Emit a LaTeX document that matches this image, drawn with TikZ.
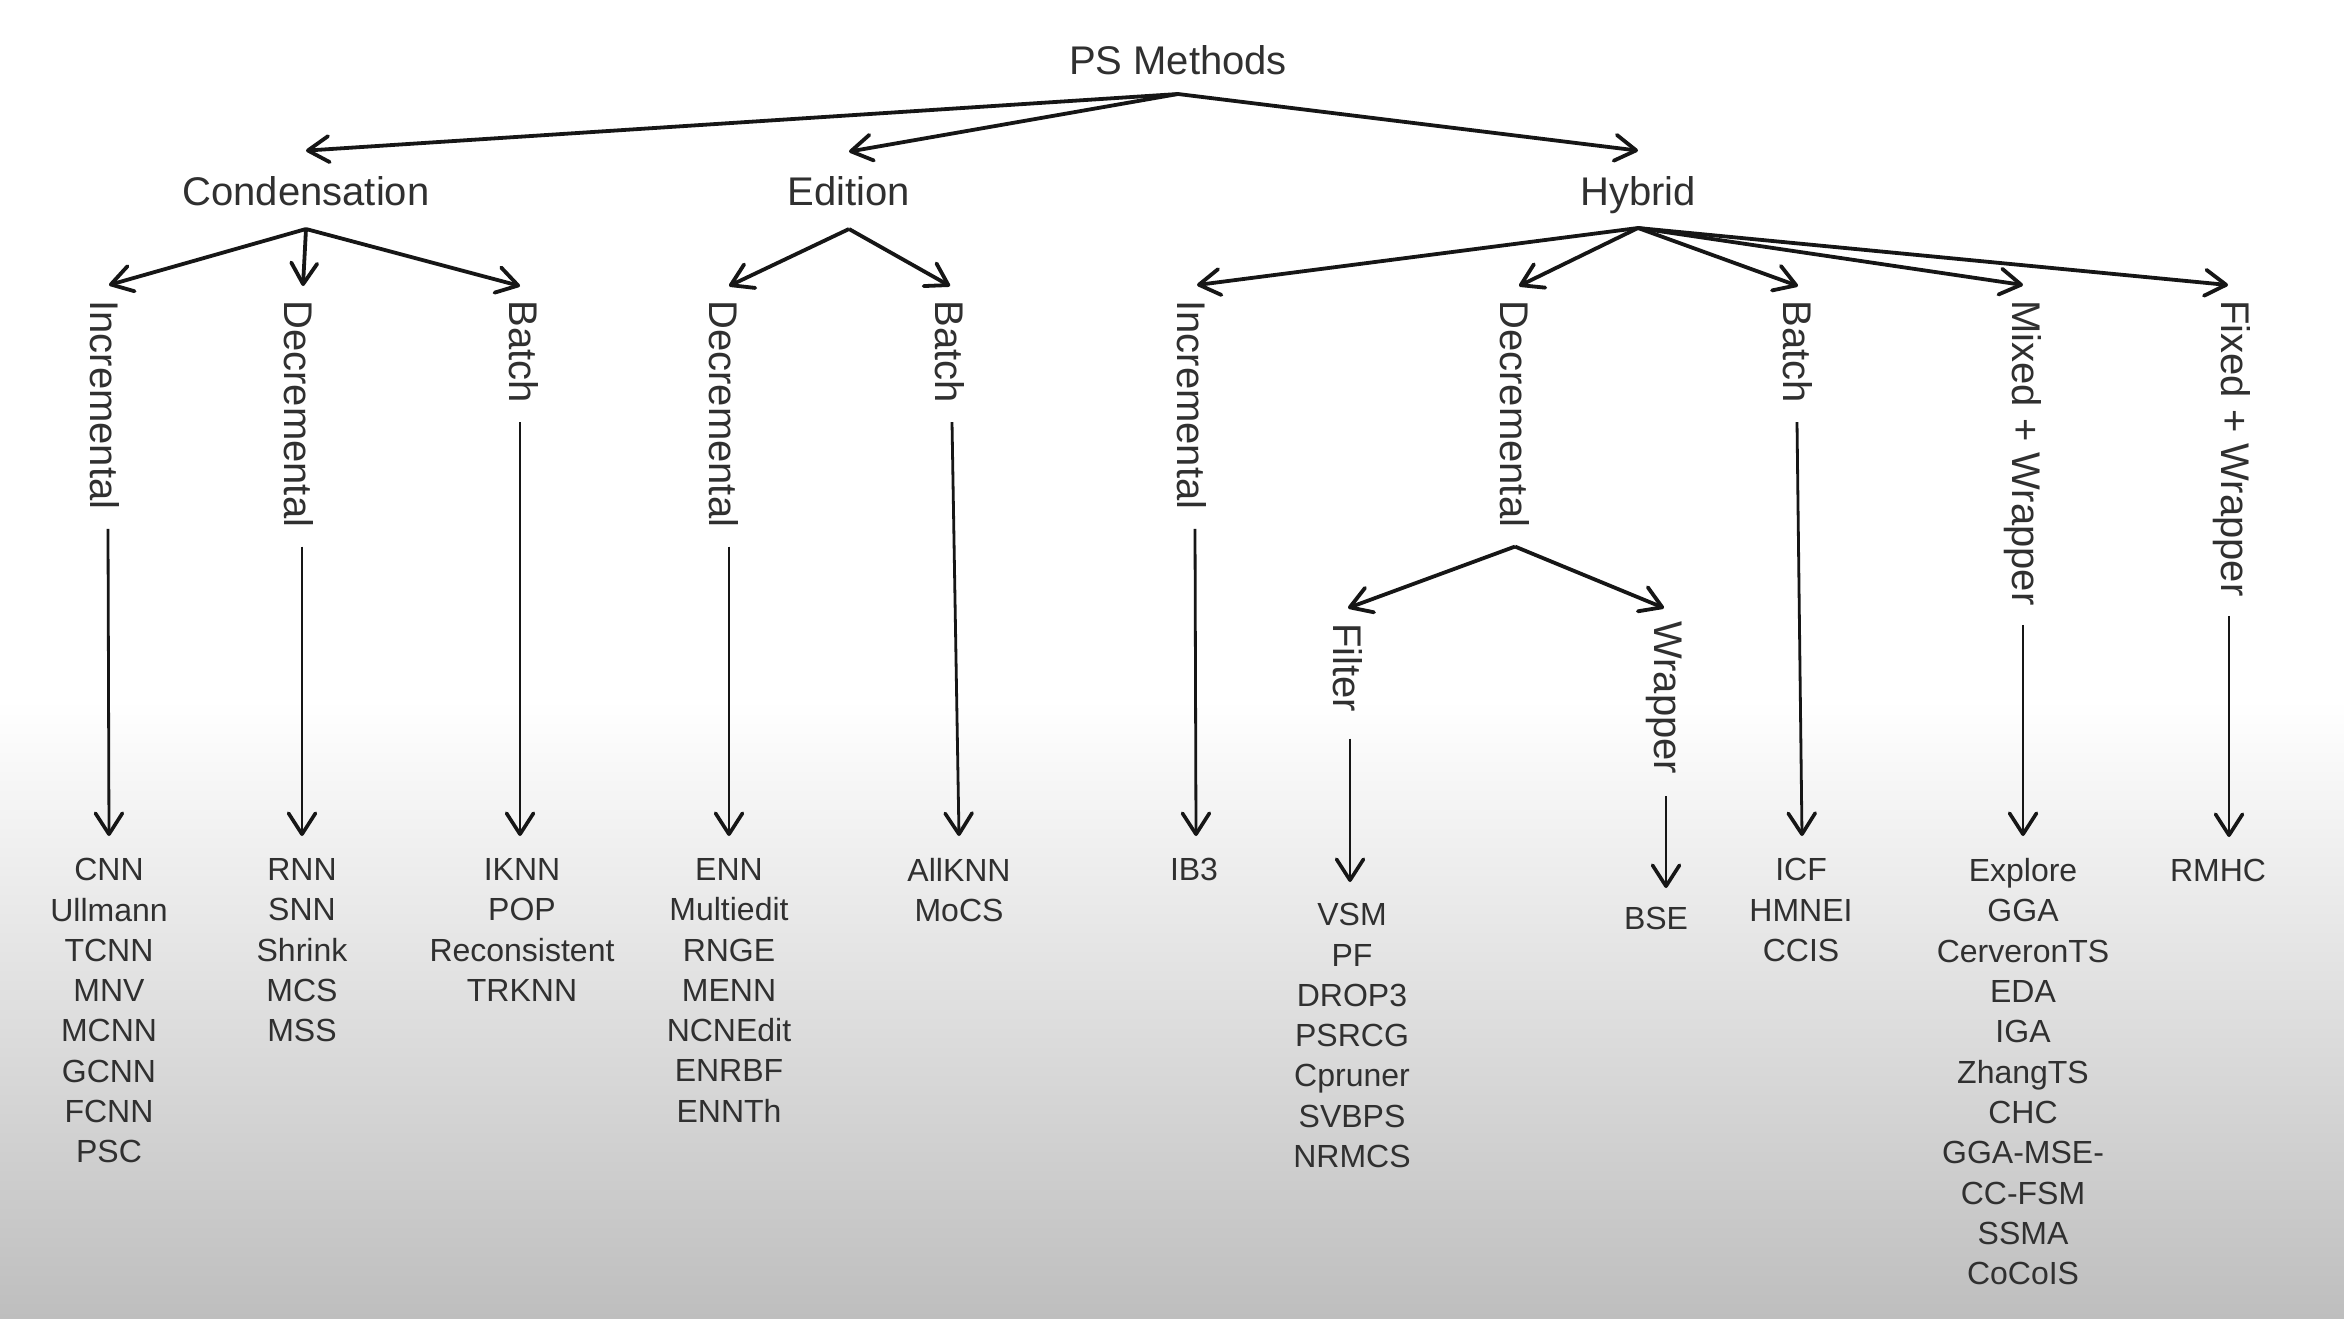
\documentclass[tikz,border=0pt]{standalone}
\usepackage{fontspec}
\setmainfont{Liberation Sans}
\usetikzlibrary{arrows.meta,calc}
\definecolor{txt}{RGB}{48,48,48}
\definecolor{ln}{RGB}{22,22,22}
\definecolor{bgbot}{RGB}{190,190,190}
\begin{document}
\begin{tikzpicture}[x=0.5pt,y=-0.5pt,
  arr/.style={draw=ln, line width=1.9pt, -{Straight Barb[length=10.5pt,width=13pt,line width=1.9pt,round]}},
  varr/.style={draw=ln, line width=1.4pt, -{Straight Barb[length=10.5pt,width=13.5pt,line width=1.8pt,round]}},
  toplab/.style={font=\fontsize{20}{24}\selectfont, text=txt, anchor=base, inner sep=0pt},
  vlab/.style={font=\fontsize{20}{24}\selectfont, text=txt, rotate=-90, anchor=west, inner sep=0pt},
  leaf/.style={font=\fontsize{16}{20.15}\selectfont, text=txt, align=center, anchor=north, inner sep=0pt}]
\fill[white] (0,0) rectangle (2344,1318);
\shade[top color=white, bottom color=bgbot] (0,700) rectangle (2344,1318);
\useasboundingbox (0,0) rectangle (2344,1318);

% top level
\node[toplab] (ps) at (1178,74) {PS Methods};
\coordinate (psr) at (1178,94);
\node[toplab] (cond) at (306,205) {Condensation};
\node[toplab] (edit) at (849,205) {Edition};
\node[toplab] (hyb) at (1638,205) {Hybrid};
\draw[arr] (psr) -- ($(cond.north)+(0,-25)$);
\draw[arr] (psr) -- ($(edit.north)+(0,-24)$);
\draw[arr] (psr) -- ($(hyb.north)+(0,-25)$);

\coordinate (condr) at (306,229);
\coordinate (editr) at (849,229);
\coordinate (hybr) at (1638,228);

% second level
\node[vlab] (ci) at (105,300) {Incremental};
\node[vlab] (cd) at (299,300) {Decremental};
\node[vlab] (cb) at (524,300) {Batch};
\node[vlab] (ed) at (724,300) {Decremental};
\node[vlab] (eb) at (950,300) {Batch};
\node[vlab] (hi) at (1192,300) {Incremental};
\node[vlab] (hd) at (1515,300) {Decremental};
\node[vlab] (hb) at (1798,300) {Batch};
\node[vlab] (hm) at (2023,300) {Mixed + Wrapper};
\node[vlab] (hf) at (2232,300) {Fixed + Wrapper};

\draw[arr] (condr) -- ($(ci.west)+(4,-15)$);
\draw[arr] (condr) -- ($(cd.west)+(4,-14)$);
\draw[arr] (condr) -- ($(cb.west)+(-4,-14)$);
\draw[arr] (editr) -- ($(ed.west)+(5,-14)$);
\draw[arr] (editr) -- ($(eb.west)+(0,-14)$);
\draw[arr] (hybr) -- ($(hi.west)+(5,-15)$);
\draw[arr] (hybr) -- ($(hd.west)+(4,-14)$);
\draw[arr] (hybr) -- ($(hb.west)+(0,-14)$);
\draw[arr] (hybr) -- ($(hm.west)+(0,-15)$);
\draw[arr] (hybr) -- ($(hf.west)+(-4,-15)$);

% hybrid decremental sub-branch
\coordinate (hdr) at ($(hd.east)+(0,19)$);
\node[vlab] (fil) at (1348,623) {Filter};
\node[vlab] (wra) at (1664,621) {Wrapper};
\draw[arr] (hdr) -- ($(fil.west)+(0,-15)$);
\draw[arr] (hdr) -- ($(wra.west)+(0,-13)$);

% leaves
\node[leaf] (l1) at (109,858) {CNN\\Ullmann\\TCNN\\MNV\\MCNN\\GCNN\\FCNN\\PSC};
\node[leaf] (l2) at (302,858) {RNN\\SNN\\Shrink\\MCS\\MSS};
\node[leaf] (l3) at (522,858) {IKNN\\POP\\Reconsistent\\TRKNN};
\node[leaf] (l4) at (729,858) {ENN\\Multiedit\\RNGE\\MENN\\NCNEdit\\ENRBF\\ENNTh};
\node[leaf] (l5) at (959,858) {AllKNN\\MoCS};
\node[leaf] (l6) at (1194,858) {IB3};
\node[leaf] (l7) at (1352,903) {VSM\\PF\\DROP3\\PSRCG\\Cpruner\\SVBPS\\NRMCS};
\node[leaf] (l8) at (1656,907) {BSE};
\node[leaf] (l9) at (1801,858) {ICF\\HMNEI\\CCIS};
\node[leaf] (l10) at (2023,858) {Explore\\GGA\\CerveronTS\\EDA\\IGA\\ZhangTS\\CHC\\GGA-MSE-\\CC-FSM\\SSMA\\CoCoIS};
\node[leaf] (l11) at (2218,859) {RMHC};

% vertical connectors (label -> leaf list)
\draw[varr] ($(ci.east)+(3,19)$) -- ($(ci.east |- l1.north)+(4,-22)$);
\draw[varr] ($(cd.east)+(3,19)$) -- ($(cd.east |- l2.north)+(3,-22)$);
\draw[varr] ($(cb.east)+(-4,19)$) -- ($(cb.east |- l3.north)+(-4,-22)$);
\draw[varr] ($(ed.east)+(5,19)$) -- ($(ed.east |- l4.north)+(5,-22)$);
\draw[varr] ($(eb.east)+(2,19)$) -- ($(eb.east |- l5.north)+(9,-22)$);
\draw[varr] ($(hi.east)+(3,19)$) -- ($(hi.east |- l6.north)+(4,-22)$);
\draw[varr] ($(hb.east)+(-1,19)$) -- ($(hb.east |- l9.north)+(4,-22)$);
\draw[varr] ($(hm.east)+(0,19)$) -- ($(hm.east |- l10.north)+(0,-22)$);
\draw[varr] ($(hf.east)+(-3,19)$) -- ($(hf.east |- l11.north)+(-3,-22)$);
\draw[varr] ($(fil.east)+(2,26)$) -- ($(fil.east |- l7.north)+(2,-21)$);
\draw[varr] ($(wra.east)+(2,22)$) -- ($(wra.east |- l8.north)+(2,-19)$);
\end{tikzpicture}
\end{document}
